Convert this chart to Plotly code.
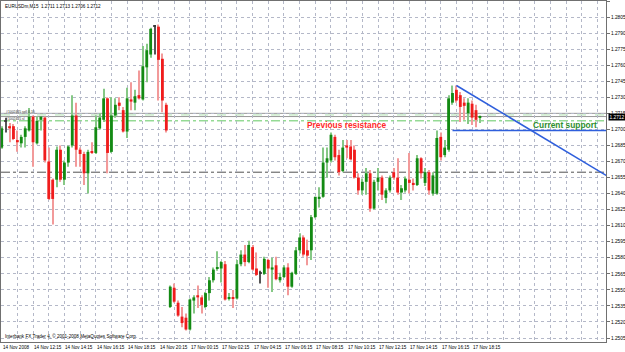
import plotly.graph_objects as go

opens = [1.2683,1.2707,1.2703,1.2703,1.2690,1.2687,1.2693,1.2699,1.2712,1.2687,
         1.2709,1.2711,1.2670,1.2653,1.2653,1.2681,1.2653,1.2669,1.2685,1.2713,
         1.2681,1.2677,1.2659,1.2679,1.2678,1.2701,1.2709,1.2729,1.2679,1.2713,
         1.2725,1.2718,1.2698,1.2728,1.2725,1.2732,1.2728,1.2758,1.2770,1.2796,
         1.2796,1.2766,1.2723,1.2534,1.2552,1.2538,1.2525,1.2524,1.2513,1.2540,
         1.2545,1.2543,1.2534,1.2547,1.2559,1.2570,1.2570,1.2574,1.2542,1.2543,
         1.2542,1.2574,1.2583,1.2576,1.2590,1.2570,1.2565,1.2565,1.2578,1.2569,
         1.2573,1.2559,1.2562,1.2571,1.2553,1.2565,1.2587,1.2599,1.2587,1.2587,
         1.2618,1.2635,1.2637,1.2669,1.2671,1.2693,1.2676,1.2661,1.2685,1.2684,
         1.2681,1.2655,1.2643,1.2651,1.2659,1.2626,1.2651,1.2655,1.2636,1.2643,
         1.2660,1.2655,1.2641,1.2643,1.2653,1.2650,1.2648,1.2673,1.2650,1.2660,
         1.2640,1.2640,1.2693,1.2676,1.2681,1.2725,1.2737,1.2732,1.2725,1.2715,
         1.2724,1.2718,1.2711]
highs = [1.2703,1.2711,1.2706,1.2705,1.2699,1.2695,1.2703,1.2720,1.2713,1.2712,
         1.2712,1.2712,1.2683,1.2654,1.2684,1.2685,1.2671,1.2685,1.2732,1.2725,
         1.2683,1.2679,1.2681,1.2688,1.2713,1.2715,1.2738,1.2730,1.2730,1.2729,
         1.2730,1.2721,1.2739,1.2744,1.2737,1.2755,1.2778,1.2780,1.2795,1.2797,
         1.2798,1.2771,1.2725,1.2554,1.2556,1.2540,1.2534,1.2528,1.2542,1.2545,
         1.2554,1.2545,1.2548,1.2562,1.2571,1.2586,1.2577,1.2577,1.2547,1.2550,
         1.2578,1.2587,1.2592,1.2596,1.2592,1.2585,1.2568,1.2581,1.2579,1.2580,
         1.2581,1.2566,1.2573,1.2575,1.2567,1.2590,1.2603,1.2601,1.2597,1.2620,
         1.2637,1.2646,1.2683,1.2683,1.2697,1.2695,1.2681,1.2690,1.2690,1.2690,
         1.2685,1.2659,1.2654,1.2664,1.2662,1.2653,1.2664,1.2657,1.2645,1.2657,
         1.2664,1.2673,1.2648,1.2656,1.2678,1.2654,1.2676,1.2674,1.2664,1.2662,
         1.2660,1.2699,1.2697,1.2690,1.2732,1.2741,1.2741,1.2735,1.2729,1.2729,
         1.2727,1.2723,1.2713]
lows = [1.2682,1.2697,1.2688,1.2690,1.2679,1.2683,1.2683,1.2698,1.2665,1.2686,
        1.2699,1.2669,1.2634,1.2611,1.2646,1.2651,1.2648,1.2665,1.2683,1.2665,
        1.2665,1.2648,1.2640,1.2677,1.2677,1.2700,1.2707,1.2659,1.2678,1.2711,
        1.2718,1.2697,1.2692,1.2718,1.2718,1.2728,1.2727,1.2744,1.2767,1.2770,
        1.2727,1.2716,1.2697,1.2533,1.2538,1.2525,1.2515,1.2512,1.2512,1.2528,
        1.2533,1.2528,1.2533,1.2540,1.2557,1.2568,1.2557,1.2540,1.2540,1.2533,
        1.2541,1.2572,1.2572,1.2575,1.2568,1.2563,1.2556,1.2564,1.2552,1.2548,
        1.2559,1.2557,1.2561,1.2545,1.2552,1.2564,1.2584,1.2581,1.2573,1.2578,
        1.2617,1.2627,1.2636,1.2655,1.2669,1.2671,1.2657,1.2660,1.2673,1.2671,
        1.2654,1.2639,1.2639,1.2639,1.2623,1.2625,1.2643,1.2634,1.2631,1.2641,
        1.2653,1.2639,1.2634,1.2641,1.2640,1.2643,1.2647,1.2654,1.2647,1.2639,
        1.2638,1.2639,1.2671,1.2674,1.2679,1.2723,1.2725,1.2707,1.2709,1.2705,
        1.2704,1.2702,1.2706]
closes = [1.2701,1.2707,1.2701,1.2691,1.2688,1.2693,1.2701,1.2712,1.2688,1.2708,
          1.2712,1.2671,1.2635,1.2635,1.2681,1.2653,1.2669,1.2684,1.2713,1.2681,
          1.2677,1.2659,1.2679,1.2678,1.2702,1.2711,1.2729,1.2678,1.2713,1.2723,
          1.2722,1.2698,1.2729,1.2726,1.2731,1.2729,1.2759,1.2774,1.2794,1.2796,
          1.2765,1.2727,1.2699,1.2553,1.2539,1.2526,1.2519,1.2513,1.2541,1.2543,
          1.2543,1.2536,1.2547,1.2559,1.2569,1.2571,1.2576,1.2541,1.2543,1.2542,
          1.2574,1.2583,1.2576,1.2592,1.2569,1.2564,1.2565,1.2579,1.2570,1.2571,
          1.2560,1.2562,1.2571,1.2553,1.2566,1.2587,1.2599,1.2583,1.2582,1.2618,
          1.2637,1.2637,1.2669,1.2673,1.2695,1.2674,1.2660,1.2683,1.2683,1.2672,
          1.2655,1.2643,1.2651,1.2659,1.2626,1.2651,1.2655,1.2639,1.2643,1.2655,
          1.2655,1.2641,1.2645,1.2654,1.2650,1.2648,1.2673,1.2659,1.2660,1.2643,
          1.2657,1.2692,1.2674,1.2683,1.2729,1.2734,1.2727,1.2721,1.2722,1.2725,
          1.2711,1.2709,1.2712]

time_label_bars = [0, 8, 16, 24, 32, 40, 48, 56, 64, 72, 80, 88, 96, 104, 112, 120]
time_labels = ["14 Nov 2008", "14 Nov 12:15", "14 Nov 14:15", "14 Nov 16:15",
               "14 Nov 18:15", "14 Nov 20:15", "17 Nov 00:15", "17 Nov 02:15",
               "17 Nov 04:15", "17 Nov 06:15", "17 Nov 08:15", "17 Nov 10:15",
               "17 Nov 12:15", "17 Nov 14:15", "17 Nov 16:15", "17 Nov 18:15"]
price_ticks = [1.2505, 1.2520, 1.2535, 1.2550, 1.2565, 1.2580, 1.2595, 1.2610,
               1.2625, 1.2640, 1.2655, 1.2670, 1.2685, 1.2700, 1.2715, 1.2730,
               1.2745, 1.2760, 1.2775, 1.2790, 1.2805, 1.2820]

bid_price = 1.2712
order_price = 1.2715
green_dash_price = 1.27135
green_dashdot_price = 1.2708
black_dashdot_price = 1.2660
support_x = [115, 154.2]
support_y = [1.2699, 1.2699]
trend_x = [116, 154.2]
trend_y = [1.2741, 1.2657]

x_range = [-0.18, 154.16]
y_range = [1.25013, 1.28200]

n = len(opens)
idx = list(range(n))
GREEN, RED, DOJI = "#138a13", "#f01c1c", "#3a3a3a"
GREEN_W, RED_W, DOJI_W = "#86c886", "#f29a9a", "#555555"

body_base, body_h, body_col, wick_col = [], [], [], []
for o, c in zip(opens, closes):
    body_base.append(min(o, c))
    body_h.append(max(abs(c - o), 0.00009))
    if c > o:
        body_col.append(GREEN); wick_col.append(GREEN_W)
    elif c < o:
        body_col.append(RED); wick_col.append(RED_W)
    else:
        body_col.append(DOJI); wick_col.append(DOJI_W)
wick_h = [h - l for h, l in zip(highs, lows)]

fig = go.Figure()
fig.add_trace(go.Bar(x=idx, y=wick_h, base=lows, width=0.28,
                     marker=dict(color=wick_col, line=dict(width=0)), hoverinfo="skip"))
fig.add_trace(go.Bar(x=idx, y=body_h, base=body_base, width=0.72,
                     marker=dict(color=body_col, line=dict(width=0)), hoverinfo="skip"))
fig.add_trace(go.Scatter(x=support_x, y=support_y, mode="lines",
                         line=dict(color="#2f5fdc", width=1.6), hoverinfo="skip"))
fig.add_trace(go.Scatter(x=trend_x, y=trend_y, mode="lines",
                         line=dict(color="#2f5fdc", width=1.6), hoverinfo="skip"))

def hline(p, color, dash, width=1):
    fig.add_shape(type="line", xref="paper", x0=0, x1=1, yref="y", y0=p, y1=p,
                  line=dict(color=color, dash=dash, width=width), layer="between")

hline(black_dashdot_price, "#505050", "dashdot")
hline(green_dashdot_price, "#62c862", "dashdot")
hline(order_price, "#989898", "solid")
hline(green_dash_price, "#b0e0b0", "dash")
hline(bid_price, "#989898", "solid")

tickvals = list(range(0, 155, 4))

FONT = "Liberation Sans"
fig.update_layout(
    width=625, height=352,
    margin=dict(l=1, r=19, t=1, b=10),
    paper_bgcolor="white", plot_bgcolor="white",
    barmode="overlay", showlegend=False,
    font=dict(family=FONT, color="black", size=5),
    xaxis=dict(range=x_range, tickmode="array", tickvals=tickvals, showticklabels=False,
               showgrid=True, gridcolor="#b4b8c8", griddash="dot", gridwidth=1,
               zeroline=False, showline=True, linecolor="#707070", linewidth=1, mirror=True,
               ticks="", automargin=False),
    yaxis=dict(range=y_range, side="right", tickmode="array", tickvals=price_ticks,
               tickformat=".4f", showgrid=True, gridcolor="#b4b8c8", griddash="dot",
               gridwidth=1, zeroline=False, showline=True, linecolor="#707070",
               linewidth=1, mirror=True, ticks="outside", ticklen=3, tickcolor="#707070",
               tickfont=dict(size=4.8, family=FONT, color="black"), automargin=False),
)

for b, lab in zip(time_label_bars, time_labels):
    fig.add_annotation(text=lab, xref="x", yref="paper", x=b, y=0, xanchor="left",
                       yanchor="top", yshift=-1, xshift=-1, showarrow=False,
                       font=dict(size=4.6, family=FONT, color="black"))

last = n - 1
title = "EURUSDm,M15  %.4f %.4f %.4f %.4f" % (opens[last], highs[last], lows[last], closes[last])
fig.add_annotation(text=title, xref="paper", yref="paper", x=0, y=1, xanchor="left",
                   yanchor="top", xshift=2, yshift=-1, showarrow=False,
                   font=dict(size=4.6, family=FONT, color="black"))
fig.add_annotation(text="Interbank FX Trader 4, © 2001-2008 MetaQuotes Software Corp.",
                   xref="paper", yref="paper", x=0, y=0, xanchor="left", yanchor="bottom",
                   xshift=2, yshift=1, showarrow=False,
                   font=dict(size=4.6, family=FONT, color="black"))
fig.add_annotation(text="<b>Previous resistance</b>", xref="x", yref="y", x=77.4, y=1.2704,
                   xanchor="left", yanchor="middle", showarrow=False,
                   font=dict(size=8.4, family=FONT, color="#ff2a2a"))
fig.add_annotation(text="<b>Current support</b>", xref="x", yref="y", x=135.0, y=1.2704,
                   xanchor="left", yanchor="middle", showarrow=False,
                   font=dict(size=8.4, family=FONT, color="#2e8e2e"))
fig.add_annotation(text="#1002445 sell 0.10", xref="paper", yref="y", x=0, y=order_price,
                   xanchor="left", yanchor="middle", xshift=3, yshift=1, showarrow=False,
                   font=dict(size=3.4, family=FONT, color="#303030"))
fig.add_annotation(text="#1002445 sl", xref="paper", yref="y", x=0, y=bid_price,
                   xanchor="left", yanchor="middle", xshift=3, yshift=-2, showarrow=False,
                   font=dict(size=3.4, family=FONT, color="#303030"))
fig.add_annotation(text="%.4f" % closes[last], xref="paper", yref="y", x=1, y=closes[last],
                   xanchor="left", yanchor="middle", xshift=2, showarrow=False,
                   bgcolor="black", borderpad=0.5,
                   font=dict(size=4.8, family=FONT, color="white"))

fig.write_html("out.html")
